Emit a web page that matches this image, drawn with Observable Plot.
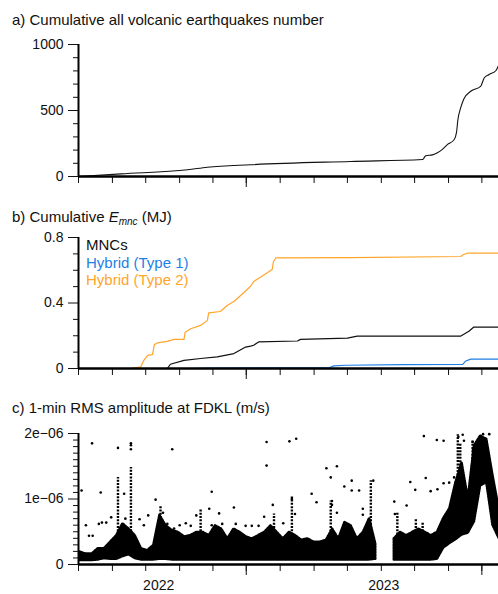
<!DOCTYPE html>
<html><head><meta charset="utf-8">
<script src="https://cdn.jsdelivr.net/npm/d3@7"></script>
<script src="https://cdn.jsdelivr.net/npm/@observablehq/plot@0.6"></script>
<style>
body{margin:0;background:#fff;font-family:"Liberation Sans",Arial,Helvetica,sans-serif;}
#fig{position:relative;width:498px;height:594px;overflow:hidden;background:#fff;}
.title{position:absolute;left:12px;font-size:15px;color:#111;white-space:nowrap;line-height:1;}
.legend{position:absolute;left:86px;top:236px;font-size:15px;line-height:17.5px;white-space:nowrap;}
</style></head><body><div id="fig"></div>
<script>
// ---------- shared x axis ----------
const xStart = "2021-08-24", xEnd = "2023-07-06";
const xTickDates = ["2021-08-24","2021-10-18","2021-12-11","2022-02-04","2022-03-30","2022-05-23","2022-07-17","2022-09-10","2022-11-03","2022-12-28","2023-02-20","2023-04-16","2023-06-09"];
const yearTickDates = ["2022-01-01","2023-01-01"];

// ---------- panel a: cumulative number of volcanic earthquakes ----------
const countDates = ["2021-08-24","2021-11-01","2022-02-17","2022-03-21","2022-05-30","2022-11-08","2023-03-05","2023-03-10","2023-03-21","2023-03-29","2023-04-06","2023-04-14","2023-04-25","2023-04-29","2023-05-01","2023-05-06","2023-05-11","2023-05-22","2023-06-07","2023-06-13","2023-06-21","2023-07-02","2023-07-06"];
const countValues = [0,20,51,70,89,114,129,157,164,180,205,242,278,336,424,525,589,646,682,748,773,803,841];

// ---------- panel b: cumulative E_mnc (MJ) ----------
const mncDates = ["2021-08-24","2022-01-15","2022-01-20","2022-02-11","2022-03-10","2022-04-06","2022-05-03","2022-05-22","2022-05-30","2022-06-04","2022-06-12","2022-08-14","2022-08-19","2022-11-03","2022-11-19","2023-05-06","2023-05-19","2023-05-27","2023-07-06"];
const mncValues = [0,0,0.026,0.05,0.061,0.071,0.091,0.131,0.137,0.142,0.162,0.168,0.178,0.186,0.198,0.198,0.227,0.253,0.253];
const type1Dates = ["2022-02-20","2022-03-25","2022-10-05","2022-10-12","2022-11-01","2023-01-31","2023-05-09","2023-05-14","2023-05-22","2023-07-06"];
const type1Values = [0,0.003,0.006,0.016,0.02,0.024,0.025,0.046,0.057,0.057];
const type2Dates = ["2021-11-15","2021-12-03","2021-12-08","2021-12-14","2021-12-22","2021-12-25","2021-12-30","2022-01-15","2022-01-26","2022-02-11","2022-02-13","2022-02-22","2022-03-10","2022-03-21","2022-03-23","2022-04-11","2022-04-22","2022-05-03","2022-05-14","2022-05-30","2022-06-04","2022-06-15","2022-06-26","2022-07-04","2022-07-06","2022-07-10","2022-11-08","2023-05-06","2023-05-09","2023-05-17","2023-07-06"];
const type2Values = [0,0.01,0.05,0.08,0.085,0.146,0.156,0.166,0.178,0.178,0.222,0.243,0.263,0.294,0.34,0.348,0.385,0.409,0.446,0.502,0.531,0.557,0.584,0.604,0.652,0.675,0.677,0.684,0.693,0.705,0.705];
const seriesNames = ["MNCs","Hybrid (Type 1)","Hybrid (Type 2)"];
const seriesColors = ["#111111","#1f7fe6","#ffa52b"];

// ---------- panel c: 1-min RMS amplitude (units of 1e-7 m/s) ----------
// dense band of points: lower / upper edge read every ~10 days (data gap late Dec 2022 - mid Jan 2023)
const bandDates = ["2021-08-26","2021-09-05","2021-09-15","2021-09-25","2021-10-05","2021-10-15","2021-10-25","2021-11-04","2021-11-14","2021-11-24","2021-12-04","2021-12-14","2021-12-24","2022-01-03","2022-01-13","2022-01-23","2022-02-02","2022-02-12","2022-02-22","2022-03-04","2022-03-14","2022-03-24","2022-04-03","2022-04-13","2022-04-23","2022-05-03","2022-05-13","2022-05-23","2022-06-02","2022-06-12","2022-06-22","2022-07-02","2022-07-12","2022-07-22","2022-08-01","2022-08-11","2022-08-21","2022-08-31","2022-09-10","2022-09-20","2022-09-30","2022-10-10","2022-10-20","2022-10-30","2022-11-09","2022-11-19","2022-11-29","2022-12-09","2022-12-19","2023-01-18","2023-01-28","2023-02-07","2023-02-17","2023-02-27","2023-03-09","2023-03-19","2023-03-29","2023-04-08","2023-04-18","2023-04-28","2023-05-08","2023-05-18","2023-05-28","2023-06-07","2023-06-17","2023-06-27","2023-07-07"];
const bandLow = [0.6,0.6,0.6,0.7,0.9,0.8,0.8,1.2,1.5,0.9,0.7,0.7,0.7,0.8,0.8,0.7,0.7,0.7,0.7,0.7,0.7,0.7,0.7,0.7,0.7,0.7,0.7,0.7,0.7,0.7,0.7,0.7,0.7,0.7,0.7,0.7,0.7,0.7,0.7,0.7,0.7,0.7,0.7,0.7,0.7,0.7,0.7,0.7,0.8,0.7,0.7,0.7,0.7,0.7,0.7,0.7,0.8,2.5,3.2,3.8,4.5,4.8,6.5,12.0,12.5,6.0,4.0];
const bandHigh = [1.9,1.6,1.6,2.4,2.4,3.4,4.4,6.2,5.4,4.4,2.4,2.1,2.9,7.5,5.9,5.2,4.9,4.2,4.4,4.9,4.9,4.4,5.9,5.4,3.9,5.4,4.9,4.2,3.9,4.4,4.9,5.9,4.9,3.9,4.9,4.4,3.7,3.9,3.4,3.4,3.7,5.4,3.9,6.4,5.9,3.9,4.9,7.0,3.1,3.9,4.9,4.4,4.9,5.4,4.9,4.4,4.9,7.0,8.5,12.5,15.5,10.0,18.1,19.6,19.1,13.6,8.5];
const dataGapStart = "2023-01-01";
const spikeDates = ["2021-10-27","2021-11-17","2022-01-04","2022-03-10","2022-07-07","2022-08-05","2022-10-07","2022-12-11","2023-01-23","2023-02-22","2023-03-05","2023-05-01","2023-05-05","2023-05-25"];
const spikeLow = [4,4,5,4.5,5,4.5,4,5,4,4.5,4.5,8,9,10];
const spikeHigh = [13.3,14.8,9.0,8.5,7.7,10.3,9.7,12.8,8.0,7.0,6.5,19.8,18.5,19.0];
const dotDates = ["2021-08-29","2021-09-05","2021-09-15","2021-09-10","2021-09-16","2021-09-29","2021-09-26","2021-10-01","2021-10-08","2021-10-16","2021-10-27","2021-11-06","2021-11-08","2021-11-17","2021-11-17","2021-11-17","2021-12-01","2021-12-08","2021-12-15","2021-12-27","2022-01-08","2022-01-15","2022-01-23","2022-01-26","2022-02-04","2022-02-14","2022-02-22","2022-03-03","2022-03-24","2022-03-28","2022-03-28","2022-04-09","2022-04-14","2022-05-03","2022-05-06","2022-05-22","2022-06-01","2022-06-12","2022-06-21","2022-06-25","2022-06-25","2022-07-05","2022-07-22","2022-08-01","2022-08-12","2022-08-05","2022-08-10","2022-09-06","2022-09-14","2022-09-30","2022-10-07","2022-10-17","2022-10-17","2022-10-09","2022-10-09","2022-10-29","2022-11-10","2022-11-10","2022-11-22","2022-11-28","2022-11-28","2022-12-15","2023-01-18","2023-01-19","2023-02-07","2023-02-13","2023-02-21","2023-03-07","2023-03-10","2023-03-18","2023-03-28","2023-04-08","2023-03-29","2023-04-08","2023-04-17","2023-04-25","2023-05-02","2023-05-09","2023-05-11","2023-05-25","2023-05-26","2023-05-24","2023-06-11","2023-06-21","2023-07-02"];
const dotValues = [11.3,6.0,18.5,4.4,4.4,11.0,6.2,6.4,6.4,7.2,17.8,10.8,7.0,18.5,17.6,18.2,6.9,6.0,7.5,9.9,7.9,6.2,17.6,5.5,6.0,6.3,5.9,7.5,8.5,11.1,6.0,7.8,6.2,8.7,6.2,5.9,5.9,5.9,7.3,18.7,15.1,9.1,6.3,18.8,19.2,10.0,7.7,10.8,9.5,14.7,13.3,15.0,7.9,9.7,9.1,11.9,12.8,11.3,11.3,8.5,7.6,12.8,9.6,7.7,9.0,12.6,11.4,19.6,13.2,11.2,19.0,18.9,11.5,12.4,12.5,13.3,19.5,19.8,18.9,18.7,17.6,15.1,19.9,19.9,9.5];
const rmsTicks = [0,10,20];
const rmsTickLabels = ["0","1e\u221206","2e\u221206"];

// ---------- helpers ----------
const FONT = "'Liberation Sans', Arial, Helvetica, sans-serif";
const D = s => new Date(s + "T00:00:00Z");
const xDomain = [D(xStart), D(xEnd)];
const fig = document.getElementById("fig");
const range = (a, b, s) => d3.range(a, b + s / 2, s).map(v => +v.toFixed(6));

function panel({top, height, marginTop, marginBottom, yDomain, yMajor, yMinor, yFmt, longTicks, yearAxis, marks}) {
  const p = Plot.plot({
    width: 498, height, marginLeft: 78, marginRight: 0, marginTop, marginBottom,
    x: {type: "utc", domain: xDomain, label: null},
    y: {domain: yDomain, label: null},
    style: {fontFamily: FONT, fontSize: "14px", color: "#111", background: "none", overflow: "visible"},
    marks: [
      ...marks,
      Plot.axisY({ticks: yMajor, tickSize: 10, tickPadding: 5, tickFormat: yFmt, fontSize: 14, label: null}),
      Plot.axisY({ticks: yMinor.filter(v => !yMajor.includes(v)), tickSize: 5, tickFormat: () => "", label: null}),
      Plot.axisX({ticks: xTickDates.map(D), tickSize: 7, tickFormat: () => "", label: null}),
      Plot.axisX({ticks: longTicks.map(D), tickSize: 11, tickFormat: () => "", label: null}),
      yearAxis ? Plot.axisX({ticks: yearTickDates.map(D), tickSize: 0, tickPadding: 16, tickFormat: d3.utcFormat("%Y"), fontSize: 14, label: null}) : null,
      Plot.ruleY([yDomain[0]], {strokeWidth: 2.6, stroke: "#000"}),
      Plot.ruleX([xDomain[0]], {strokeWidth: 2, stroke: "#000"})
    ]
  });
  p.style.position = "absolute"; p.style.top = top + "px"; p.style.left = "0px";
  fig.append(p);
}
function addTitle(html, top) {
  const d = document.createElement("div");
  d.className = "title"; d.style.top = top + "px"; d.innerHTML = html;
  fig.append(d);
}

// ---------- panel a ----------
addTitle("a) Cumulative all volcanic earthquakes number", 12);
panel({
  top: 30, height: 162, marginTop: 14, marginBottom: 16,
  yDomain: [0, 1000], yMajor: [0, 500, 1000], yMinor: range(0, 1000, 100), yFmt: d => String(d),
  longTicks: ["2022-05-23"], yearAxis: false,
  marks: [
    Plot.line(countDates.map((d, i) => ({date: D(d), v: countValues[i]})), {x: "date", y: "v", stroke: "#111", strokeWidth: 1.1, curve: "monotone-x"})
  ]
});

// ---------- panel b ----------
addTitle('b) Cumulative <i>E</i><span style="font-size:10px;font-style:italic;position:relative;top:3px;">mnc</span> (MJ)', 209);
const seriesB = [
  [mncDates, mncValues], [type1Dates, type1Values], [type2Dates, type2Values]
];
panel({
  top: 226, height: 158, marginTop: 11, marginBottom: 16,
  yDomain: [0, 0.8], yMajor: [0, 0.4, 0.8], yMinor: range(0, 0.8, 0.1), yFmt: d => String(d),
  longTicks: ["2022-05-23"], yearAxis: false,
  marks: [2, 0, 1].map(k => Plot.line(seriesB[k][0].map((d, i) => ({date: D(d), v: seriesB[k][1][i]})), {x: "date", y: "v", stroke: seriesColors[k], strokeWidth: 1.2}))
});
const leg = document.createElement("div");
leg.className = "legend";
leg.innerHTML = seriesNames.map((n, i) => `<div style="color:${seriesColors[i]}">${n}</div>`).join("");
fig.append(leg);

// ---------- panel c ----------
addTitle("c) 1-min RMS amplitude at FDKL (m/s)", 400);
const rmsLabelMap = new Map(rmsTicks.map((t, i) => [t, rmsTickLabels[i]]));
const bandRows = bandDates.map((d, i) => ({date: D(d), lo: bandLow[i], hi: bandHigh[i], seg: d < dataGapStart ? "before" : "after"}));
panel({
  top: 420, height: 174, marginTop: 13, marginBottom: 30,
  yDomain: [0, 20], yMajor: rmsTicks, yMinor: range(0, 20, 1), yFmt: d => rmsLabelMap.get(d),
  longTicks: ["2022-05-23", "2023-06-09"], yearAxis: true,
  marks: [
    Plot.areaY(bandRows, {x: "date", y1: "lo", y2: "hi", z: "seg", fill: "#000", stroke: "#000", strokeWidth: 2.5, strokeDasharray: "1.6 1.2", strokeLinejoin: "round"}),
    Plot.ruleX(spikeDates.map((d, i) => ({date: D(d), lo: spikeLow[i], hi: spikeHigh[i]})), {x: "date", y1: "lo", y2: "hi", stroke: "#000", strokeWidth: 2.4, strokeDasharray: "2 1.3"}),
    Plot.dot(dotDates.map((d, i) => ({date: D(d), v: dotValues[i]})), {x: "date", y: "v", r: 1.3, fill: "#000", stroke: "none"})
  ]
});
</script></body></html>
